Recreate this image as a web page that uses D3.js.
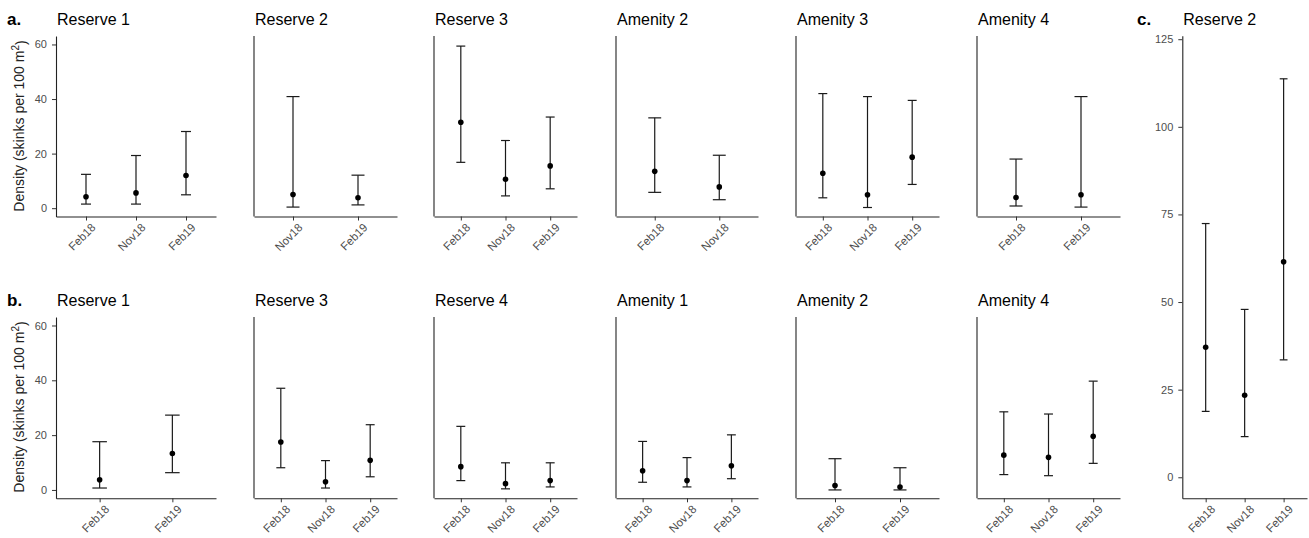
<!DOCTYPE html>
<html>
<head>
<meta charset="utf-8">
<script src="https://cdn.jsdelivr.net/npm/d3@7"></script>
<style>
body{margin:0;background:#fff}
svg{font-family:"Liberation Sans",Arial,sans-serif}
</style>
</head>
<body>
<div class="chart"></div>
<script>
// row a.
var rowA_sites = ["Reserve 1","Reserve 2","Reserve 3","Amenity 2","Amenity 3","Amenity 4"];
var rowA_months = [["Feb18","Nov18","Feb19"],["Nov18","Feb19"],["Feb18","Nov18","Feb19"],["Feb18","Nov18"],["Feb18","Nov18","Feb19"],["Feb18","Feb19"]];
var rowA_est = [[4.2,5.6,12.0],[5.0,3.8],[31.5,10.6,15.5],[13.5,7.8],[12.8,4.9,18.7],[3.9,4.9]];
var rowA_lo  = [[1.5,1.5,4.9],[0.4,1.2],[16.8,4.5,7.1],[5.8,3.1],[3.8,0.25,8.7],[0.8,0.4]];
var rowA_hi  = [[12.4,19.3,28.1],[40.9,12.1],[59.4,24.8,33.4],[33.1,19.4],[42.0,40.9,39.5],[18.0,40.9]];

// row b.
var rowB_sites = ["Reserve 1","Reserve 3","Reserve 4","Amenity 1","Amenity 2","Amenity 4"];
var rowB_months = [["Feb18","Feb19"],["Feb18","Nov18","Feb19"],["Feb18","Nov18","Feb19"],["Feb18","Nov18","Feb19"],["Feb18","Feb19"],["Feb18","Nov18","Feb19"]];
var rowB_est = [[3.7,13.3],[17.5,3.0,10.8],[8.5,2.3,3.4],[7.0,3.4,8.8],[1.6,1.1],[12.7,11.9,19.6]];
var rowB_lo  = [[0.7,6.3],[8.1,0.7,4.8],[3.4,0.4,1.1],[2.8,1.1,4.1],[0,0],[5.6,5.2,9.7]];
var rowB_hi  = [[17.6,27.3],[37.1,10.7,23.8],[23.2,9.9,9.9],[17.7,11.8,20.1],[11.4,8.1],[28.5,27.7,39.7]];

// panel c.
var rowC_site = "Reserve 2";
var rowC_months = ["Feb18","Nov18","Feb19"];
var rowC_est = [37.1,23.4,61.5];
var rowC_lo  = [18.8,11.6,33.5];
var rowC_hi  = [72.4,47.9,113.7];

var ticksAB = [0,20,40,60];
var ticksC = [0,25,50,75,100,125];

var width = 1309, height = 538;
var svg = d3.select(".chart").append("svg").attr("width", width).attr("height", height);

var lefts  = [56,254,434,616,796,977];
var rights = [216,397,577,758,939,1120];

function drawPanel(left, right, top, bottom, domain, title, months, est, lo, hi, yticks){
	var g = svg.append("g");
	var x = d3.scalePoint().domain(months).range([left, right]).padding(0.6);
	var y = d3.scaleLinear().domain(domain).range([bottom, top]);
	var capW = x.step()*0.1;

	// x axis
	var xa = g.append("g").attr("transform","translate(0,"+bottom+")")
		.call(d3.axisBottom(x).tickSize(4).tickSizeOuter(0));
	xa.select(".domain").attr("stroke","#222").attr("stroke-width",1.1);
	xa.selectAll(".tick line").attr("stroke","#333");
	xa.selectAll("text").attr("x",0).attr("y",0).attr("dy","0.71em")
		.attr("transform","translate(4,6) rotate(-45)")
		.style("text-anchor","end").style("font-size","11.5px").attr("fill","#4d4d4d");

	// y axis
	if(yticks){
		var ya = g.append("g").attr("transform","translate("+left+",0)")
			.call(d3.axisLeft(y).tickValues(yticks).tickSize(4).tickPadding(5).tickSizeOuter(0));
		ya.select(".domain").attr("stroke","#222").attr("stroke-width",1.1);
		ya.selectAll(".tick line").attr("stroke","#333");
		ya.selectAll("text").style("font-size","11px").attr("fill","#4d4d4d");
	} else {
		g.append("line").attr("x1",left).attr("x2",left).attr("y1",top).attr("y2",bottom)
			.attr("stroke","#222").attr("stroke-width",1.1);
	}

	var idx = d3.range(months.length);
	g.selectAll(".whisk").data(idx).enter().append("line")
		.attr("x1",function(i){return x(months[i]);}).attr("x2",function(i){return x(months[i]);})
		.attr("y1",function(i){return y(lo[i]);}).attr("y2",function(i){return y(hi[i]);})
		.attr("stroke","#1a1a1a").attr("stroke-width",1.2);
	g.selectAll(".capHi").data(idx).enter().append("line")
		.attr("x1",function(i){return x(months[i])-capW;}).attr("x2",function(i){return x(months[i])+capW;})
		.attr("y1",function(i){return y(hi[i]);}).attr("y2",function(i){return y(hi[i]);})
		.attr("stroke","#1a1a1a").attr("stroke-width",1.2);
	g.selectAll(".capLo").data(idx).enter().append("line")
		.attr("x1",function(i){return x(months[i])-capW;}).attr("x2",function(i){return x(months[i])+capW;})
		.attr("y1",function(i){return y(lo[i]);}).attr("y2",function(i){return y(lo[i]);})
		.attr("stroke","#1a1a1a").attr("stroke-width",1.2);
	g.selectAll("circle").data(idx).enter().append("circle")
		.attr("cx",function(i){return x(months[i]);}).attr("cy",function(i){return y(est[i]);})
		.attr("r",2.8).attr("fill","#000");

	g.append("text").attr("x",left+1).attr("y",top-11).text(title)
		.style("font-size","16px").attr("fill","#000");
}

var domAB = [-3.05, 63.1];
rowA_sites.forEach(function(s,i){
	drawPanel(lefts[i], rights[i], 36, 216.5, domAB, s, rowA_months[i], rowA_est[i], rowA_lo[i], rowA_hi[i], i==0 ? ticksAB : null);
});
rowB_sites.forEach(function(s,i){
	drawPanel(lefts[i], rights[i], 317, 498.3, domAB, s, rowB_months[i], rowB_est[i], rowB_lo[i], rowB_hi[i], i==0 ? ticksAB : null);
});
drawPanel(1182.3, 1307, 35.7, 498.3, [-6,126], rowC_site, rowC_months, rowC_est, rowC_lo, rowC_hi, ticksC);

// panel letters
svg.append("text").attr("x",7).attr("y",25).text("a.").style("font-size","17px").style("font-weight","bold");
svg.append("text").attr("x",7).attr("y",306).text("b.").style("font-size","17px").style("font-weight","bold");
svg.append("text").attr("x",1137).attr("y",25).text("c.").style("font-size","17px").style("font-weight","bold");

// y labels
[126, 407].forEach(function(cy){
	var t = svg.append("text").attr("transform","translate(24,"+cy+") rotate(-90)")
		.style("text-anchor","middle").style("font-size","14px").attr("fill","#222");
	t.append("tspan").text("Density (skinks per 100 m");
	t.append("tspan").text("2").attr("dy","-0.5em").style("font-size","10px");
	t.append("tspan").text(")").attr("dy","0.5em");
});
</script>
</body>
</html>
